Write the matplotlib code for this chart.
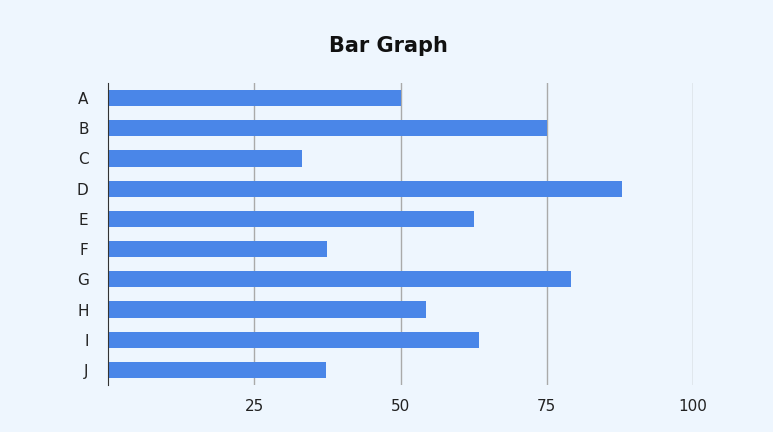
import matplotlib
matplotlib.use("Agg")
import matplotlib.pyplot as plt

categories = ["A", "B", "C", "D", "E", "F", "G", "H", "I", "J"]
values = [50, 75, 33.2, 87.9, 62.6, 37.4, 79.1, 54.4, 63.4, 37.3]
xticks = [25, 50, 75, 100]

bg = "#eef6fe"
fig = plt.figure(figsize=(7.73, 4.32), dpi=100, facecolor=bg)
ax = fig.add_axes([108/773, 1-385/432, 585/773, 302/432], facecolor=bg)
ypos = list(range(len(categories)))
ax.barh(ypos, values, height=0.53, color="#4a86e8", zorder=3)
ax.set_ylim(len(categories)-0.5, -0.5)
ax.set_xlim(0, 100)
ax.set_yticks(ypos)
ax.set_yticklabels(categories, fontsize=11, color="#222222")
ax.set_xticks(xticks)
ax.set_xticklabels([str(t) for t in xticks], fontsize=11, color="#222222")
ax.tick_params(length=0, pad=10)
ax.tick_params(axis="y", pad=14)
for t in xticks:
    ax.axvline(t, color="#aaaaaa", lw=1, zorder=1)
for s in ["top", "right", "bottom"]:
    ax.spines[s].set_visible(False)
ax.spines["left"].set_color("#333333")
ax.spines["left"].set_zorder(4)
fig.text(388/773, 1-46/432, "Bar Graph", ha="center", va="center", fontsize=15, fontweight="bold", color="#111111")
fig.savefig("out.png", dpi=100, facecolor=bg)
